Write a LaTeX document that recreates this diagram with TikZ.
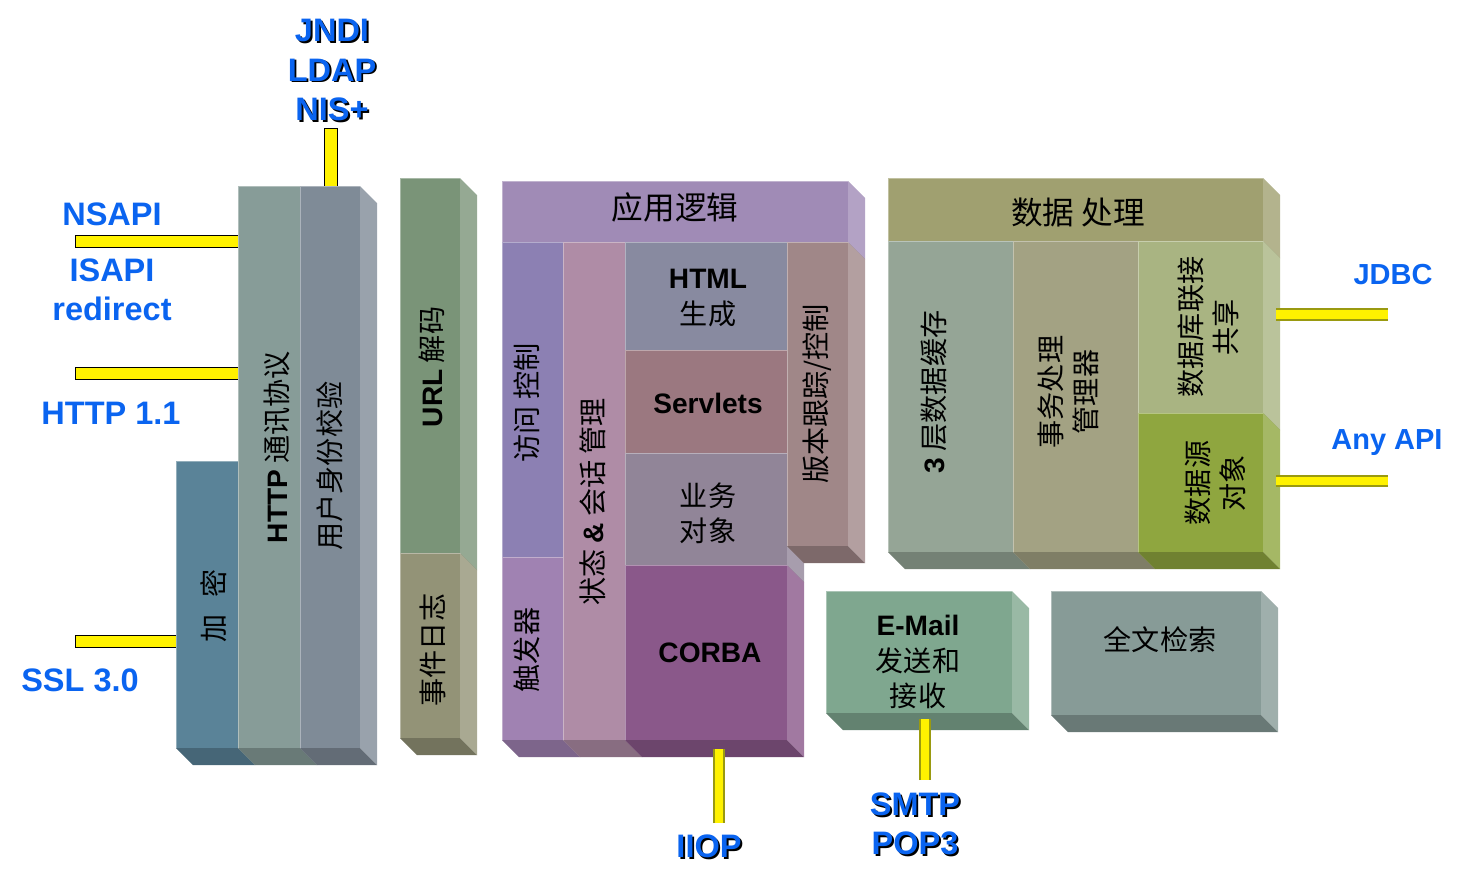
\documentclass[tikz,border=0pt]{standalone}
\usepackage{fontspec}
\setmainfont{Liberation Sans}
\newfontfamily\zh{Noto Sans CJK SC}
\usetikzlibrary{calc,fit}
\pgfdeclarelayer{bg}
\pgfsetlayers{bg,main}
\definecolor{encblue}{HTML}{5A8398}
\definecolor{httpgray}{HTML}{879C98}
\definecolor{authgray}{HTML}{7F8B97}
\definecolor{urlgreen}{HTML}{7A9478}
\definecolor{logolive}{HTML}{939377}
\definecolor{applilac}{HTML}{A08BB6}
\definecolor{accviolet}{HTML}{8C80B3}
\definecolor{trigviolet}{HTML}{A082B2}
\definecolor{sessrose}{HTML}{AF8CA6}
\definecolor{htmlgray}{HTML}{888AA0}
\definecolor{srvrose}{HTML}{9B7880}
\definecolor{bizgray}{HTML}{918598}
\definecolor{corbaplum}{HTML}{8A588A}
\definecolor{verrose}{HTML}{A08788}
\definecolor{dataolive}{HTML}{A0A070}
\definecolor{cachegray}{HTML}{95A596}
\definecolor{txolive}{HTML}{A3A283}
\definecolor{poolgreen}{HTML}{A9B482}
\definecolor{srcgreen}{HTML}{8FA63F}
\definecolor{mailgreen}{HTML}{7FA78F}
\definecolor{searchgray}{HTML}{879B97}
\definecolor{lblue}{HTML}{0A64F0}
\definecolor{tubedark}{HTML}{9A9A10}
\newcommand{\en}[1]{{\rmfamily\bfseries #1}}
\newcommand{\shd}[1]{\leavevmode\rlap{\kern1.1pt\raisebox{-1.1pt}{\color{black}#1}}#1}

\begin{document}
\begin{tikzpicture}[x=0.02cm, y=-0.02cm,
  blk/.style={draw=white, draw opacity=.35, line width=.5pt,
    inner sep=0pt, outer sep=0pt},
  vtxt/.style={font=\zh\fontsize{16}{20}\selectfont, rotate=90,
    align=center, inner sep=0pt},
  htxt/.style={font=\zh\fontsize{16}{20}\selectfont, align=center,
    inner sep=0pt},
  head/.style={htxt, font=\zh\fontsize{18}{22}\selectfont},
  lbl/.style={font=\bfseries\fontsize{18.5}{22.5}\selectfont, text=lblue,
    align=center, inner sep=0pt},
  lbls/.style={lbl, font=\bfseries\fontsize{16.5}{20}\selectfont},
  bar/.style={draw=yellow, line width=6.3pt, line cap=rect,
    preaction={draw=black, line width=7.9pt, line cap=rect}},
  tube/.style={draw=tubedark, line width=7.2pt,
    postaction={draw=yellow, line width=4.6pt}},
]
\useasboundingbox (0,0) rectangle (1475,890);

% blocks, back to front
\foreach \n/\xa/\ya/\xb/\yb/\c in {
  enc/176/461/238/748/encblue,
  http/238/186/300/748/httpgray,
  auth/300/186/360/748/authgray,
  url/400/178/460/553/urlgreen,
  log/400/553/460/738/logolive,
  app/502/181/848/242/applilac,
  acc/502/242/563/557/accviolet,
  trig/502/557/563/740/trigviolet,
  sess/563/242/625/740/sessrose,
  html/625/242/787/350/htmlgray,
  srv/625/350/787/453/srvrose,
  biz/625/453/787/565/bizgray,
  corba/625/565/787/740/corbaplum,
  ver/787/242/848/546/verrose,
  data/888/178/1263/241/dataolive,
  cache/888/241/1013/552/cachegray,
  tx/1013/241/1138/552/txolive,
  pool/1138/241/1263/413/poolgreen,
  src/1138/413/1263/552/srcgreen,
  mail/826/591/1012/713/mailgreen,
  search/1051/591/1261/715/searchgray} {
  \node[blk, fill=\c, fit={(\xa,\ya) (\xb,\yb)}] (\n) {};
  \fill[fill=\c!80!white] (\n.north east) -- ++(17,17)
    -- ($(\n.south east)+(17,17)$) -- (\n.south east) -- cycle;
  \fill[fill=\c!78!black] (\n.south west) -- ++(17,17)
    -- ($(\n.south east)+(17,17)$) -- (\n.south east) -- cycle;
}

% block texts
\node[vtxt] (encL) at (214,606) {加\hspace{.6em}密};
\node[vtxt] (httpL) at (277,447) {\en{HTTP} 通讯协议};
\node[vtxt] (authL) at (330,466) {用户身份校验};
\node[vtxt] (urlL) at (432,367) {\en{URL} 解码};
\node[vtxt] (logL) at (433,650) {事件日志};
\node[head] (appL) at (675,207) {应用逻辑};
\node[vtxt] (accL) at (527,403) {访问 控制};
\node[vtxt] (trigL) at (527,650) {触发器};
\node[vtxt] (sessL) at (593,502) {状态 \en{\&} 会话 管理};
\node[htxt] (htmlL) at (708,298) {\en{HTML}\\生成};
\node[htxt] (srvL) at (708,403) {\en{Servlets}};
\node[htxt] (bizL) at (708,513) {业务\\对象};
\node[htxt] (corbaL) at (710,653) {\en{CORBA}};
\node[vtxt] (verL) at (817,394) {版本跟踪/控制};
\node[head] (dataL) at (1078,213) {数据 处理};
\node[vtxt] (cacheL) at (934,392) {\en{3} 层数据缓存};
\node[vtxt] (txL) at (1068,392) {事务处理\\管理器};
\node[vtxt] (poolL) at (1208,327) {数据库联接\\共享};
\node[vtxt] (srcL) at (1215,483) {数据源\\对象};
\node[htxt] (mailL) at (918,662) {\en{E-Mail}\\发送和\\接收};
\node[htxt] (searchL) at (1160,640) {全文检索};

% interfaces
\coordinate (jndiB) at (331,135);
\coordinate (nsapiB) at (82,241.5);
\coordinate (httpB) at (82,373.5);
\coordinate (sslB) at (82,641.5);
\coordinate (iiopB) at (719,823);
\coordinate (smtpB) at (925,780);
\coordinate (jdbcB) at (1388,314.5);
\coordinate (apiB) at (1388,481);
\begin{pgfonlayer}{bg}
\draw[bar] (jndiB) -- (jndiB |- auth.north);
\draw[bar] (nsapiB) -- (nsapiB -| http.west);
\draw[bar] (httpB) -- (httpB -| http.west);
\draw[bar] (sslB) -- (sslB -| enc.west);
\end{pgfonlayer}
\draw[tube] (iiopB) -- ($(iiopB |- corba.south)+(0,9)$);
\draw[tube] (smtpB) -- ($(smtpB |- mail.south)+(0,6)$);
\draw[tube] (jdbcB) -- ($(jdbcB -| pool.east)+(13,0)$);
\draw[tube] (apiB) -- ($(apiB -| src.east)+(13,0)$);

\node[lbl] (jndiL) at (332,71) {\shd{JNDI}\\\shd{LDAP}\\\shd{NIS+}};
\node[lbl] (nsapiL) at (112,214) {NSAPI};
\node[lbl] (isapiL) at (112,290) {ISAPI\\redirect};
\node[lbl] (httpvL) at (111,413) {HTTP 1.1};
\node[lbl] (sslL) at (80,680) {SSL 3.0};
\node[lbl] (iiopL) at (709,847) {\shd{IIOP}};
\node[lbl] (smtpL) at (915,825) {\shd{SMTP}\\\shd{POP3}};
\node[lbls] (jdbcL) at (1393,275) {JDBC};
\node[lbls] (apiL) at (1387,443) {Any API};
\end{tikzpicture}
\end{document}
